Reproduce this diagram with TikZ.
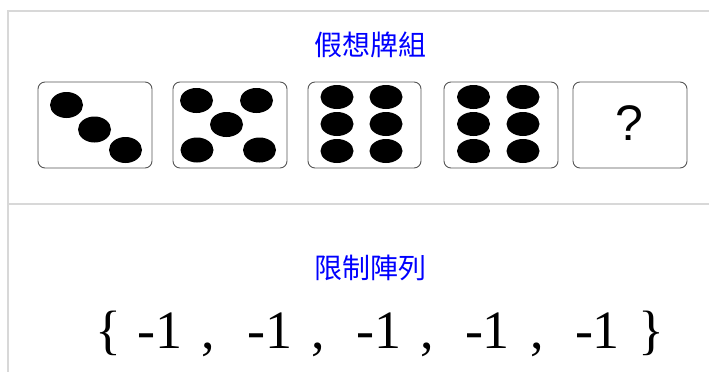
\documentclass[tikz,border=0pt]{standalone}
\usepackage{fontspec}
\setmainfont{Liberation Serif}
\newfontfamily\cjk{Noto Sans CJK TC}
\newfontfamily\arialf{Liberation Sans}
\definecolor{lineg}{HTML}{D8D8D8}
\definecolor{boxg}{HTML}{555555}
\definecolor{ttlblue}{HTML}{0000FF}
\begin{document}
\begin{tikzpicture}[x=1pt,y=-1pt,
  panel/.style={draw=lineg,line width=1.5pt},
  card/.style={draw=boxg,line width=0.9pt,rounded corners=7pt},
  pip/.style={fill=black,draw=none},
  ttl/.style={font=\cjk\fontsize{28}{30}\selectfont,text=ttlblue,inner sep=0pt},
  num/.style={font=\fontsize{54}{56}\selectfont,inner sep=0pt,anchor=base}]
\useasboundingbox (0,0) rectangle (709,372);
% panel lines
\draw[panel] (709,11) -- (8,11) -- (8,372);
\draw[panel] (8,204) -- (709,204);
% titles
\node[ttl] (t1) at (370,45) {假想牌組};
\node[ttl] (t2) at (370,268) {限制陣列};
% cards
\draw[card] (38,82) rectangle (152,168);
\draw[card] (173,82) rectangle (287,168);
\draw[card] (308,82) rectangle (421,168);
\draw[card] (444,82) rectangle (558,168);
\draw[card] (573,82) rectangle (687,168);
% card 1
\fill[pip] (66.5,105) ellipse [x radius=16.5,y radius=13];
\fill[pip] (94.5,129.5) ellipse [x radius=16.5,y radius=13];
\fill[pip] (125.5,150) ellipse [x radius=16.5,y radius=13];
% card 2
\fill[pip] (196.5,100.5) ellipse [x radius=16.5,y radius=12.5];
\fill[pip] (256.5,100.5) ellipse [x radius=16.5,y radius=12.5];
\fill[pip] (226.5,124.5) ellipse [x radius=16.5,y radius=12.5];
\fill[pip] (197,150) ellipse [x radius=16.5,y radius=12.5];
\fill[pip] (259.5,150) ellipse [x radius=16.5,y radius=12.5];
% card 3
\foreach \x in {337,386}{\foreach \y in {97,124,151}{
  \fill[pip] (\x,\y) ellipse [x radius=16.5,y radius=12];}}
% card 4
\foreach \x in {473.5,523}{\foreach \y in {97,124,151}{
  \fill[pip] (\x,\y) ellipse [x radius=16.5,y radius=12];}}
% card 5
\node[font=\arialf\fontsize{50}{52}\selectfont,inner sep=0pt] (q) at (629,123) {?};
% array
\node[num] (lb) at (108.5,348) {\{};
\node[num] (n1) at (160,348) {-1};
\node[num] (c1) at (208,348) {,};
\node[num] (n2) at (270,348) {-1};
\node[num] (c2) at (318,348) {,};
\node[num] (n3) at (379,348) {-1};
\node[num] (c3) at (427,348) {,};
\node[num] (n4) at (487.5,348) {-1};
\node[num] (c4) at (537,348) {,};
\node[num] (n5) at (597.5,348) {-1};
\node[num] (rb) at (651,348) {\}};
\end{tikzpicture}
\end{document}
